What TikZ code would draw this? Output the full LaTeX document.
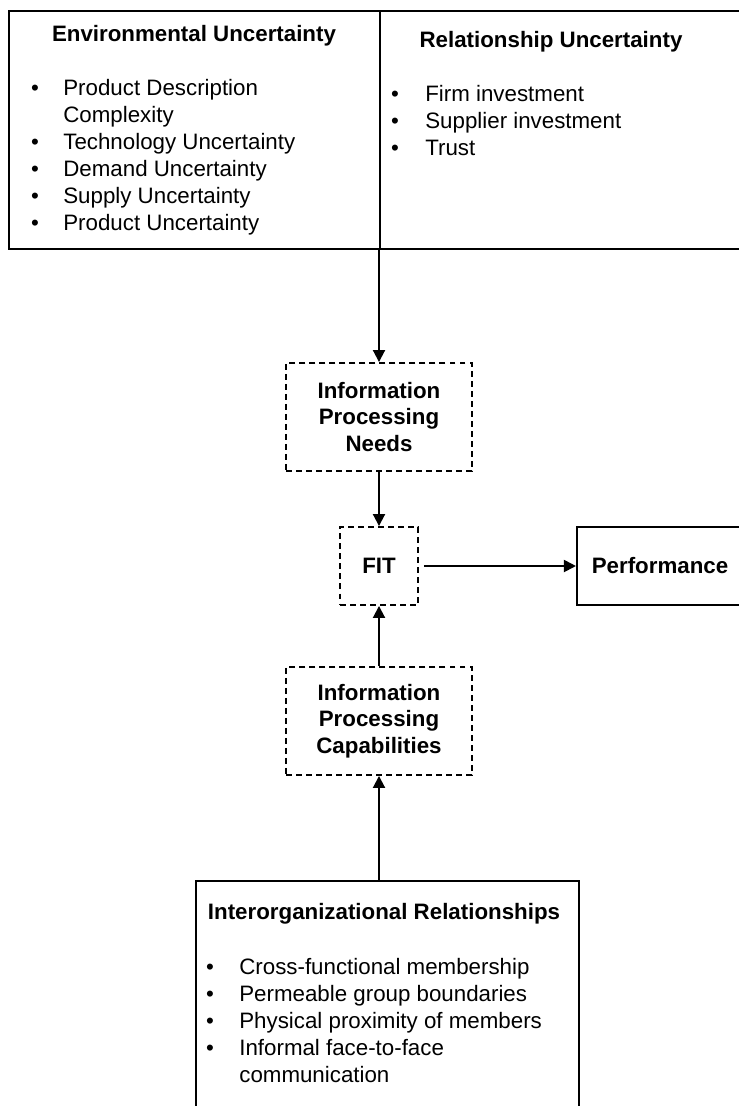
\documentclass[tikz,border=0pt]{standalone}
\usepackage{fontspec}
\setmainfont{Liberation Sans}
\usetikzlibrary{arrows.meta}
\newcommand{\boxfont}{\fontsize{12.7}{15}\selectfont}
\tikzset{box/.style={draw, line width=1.2pt, inner sep=0pt},
  dbox/.style={draw, line width=1.1pt, dash pattern=on 3.4pt off 2.3pt,
    align=center, font=\boxfont\bfseries},
  conn/.style={line width=1.1pt, -{Triangle[length=0.24cm,width=0.24cm]}},
  ttl/.style={anchor=base, inner sep=0pt, font=\boxfont\bfseries},
  itm/.style={anchor=base west, inner sep=0pt, font=\boxfont},
  bul/.style={anchor=base, inner sep=0pt, font=\boxfont}}

\begin{document}
\begin{tikzpicture}[x=0.02cm,y=-0.02cm]
      \clip (0,0) rectangle (739,1106);
      % uncertainty boxes
      \node [box, anchor=north west, minimum width=7.42cm, minimum height=4.76cm] (envbox) at (8,10) {};
      \node [box, anchor=north west, minimum width=7.5cm, minimum height=4.76cm] (relbox) at (379,10) {};
      \node [ttl] (env) at (194,41) {Environmental Uncertainty};
      \foreach \txt/\yy [count=\i] in {Product Description/95, Technology Uncertainty/149,
          Demand Uncertainty/176, Supply Uncertainty/203, Product Uncertainty/230} {
        \node [bul] (envb-\i) at (35,\yy) {\textbullet};
        \node [itm] (env-\i) at (63,\yy) {\txt};
      }
      \node [itm] (envc) at (63,122) {Complexity};
      \node [ttl] (rel) at (551,47) {Relationship Uncertainty};
      \foreach \txt/\yy [count=\i] in {Firm investment/101, Supplier investment/128, Trust/155} {
        \node [bul] (relb-\i) at (395,\yy) {\textbullet};
        \node [itm] (rel-\i) at (425,\yy) {\txt};
      }
      % middle column
      \node [dbox, minimum width=3.72cm, minimum height=2.16cm] (ipn) at (379,417) {Information\\Processing\\Needs};
      \node [dbox, minimum width=1.56cm, minimum height=1.56cm] (fit) at (379,566) {FIT};
      \node [dbox, minimum width=3.72cm, minimum height=2.16cm] (ipc) at (379,721) {Information\\Processing\\Capabilities};
      \node [box, minimum width=3.32cm, minimum height=1.56cm, font=\boxfont\bfseries] (perf) at (660,566) {Performance};
      % relationships box
      \node [box, anchor=north west, minimum width=7.66cm, minimum height=5cm] (iorbox) at (195,880) {};
      \node [ttl] (ior) at (384,919) {Interorganizational Relationships};
      \foreach \txt/\yy [count=\i] in {Cross-functional membership/974, Permeable group boundaries/1001,
          Physical proximity of members/1028, Informal face-to-face/1055} {
        \node [bul] (iorb-\i) at (210,\yy) {\textbullet};
        \node [itm] (ior-\i) at (239,\yy) {\txt};
      }
      \node [itm] (iorc) at (239,1082) {communication};
      % arrows
      \draw [conn] (ipn.north |- envbox.south) -- (ipn.north);
      \draw [conn] (ipn.south) -- (fit.north);
      \draw [conn] (ipc.north) -- (fit.south);
      \draw [conn] (fit.east) ++(5,0) -- (perf.west);
      \draw [conn] (ipc.south |- iorbox.north) -- (ipc.south);
    \end{tikzpicture}
\end{document}
